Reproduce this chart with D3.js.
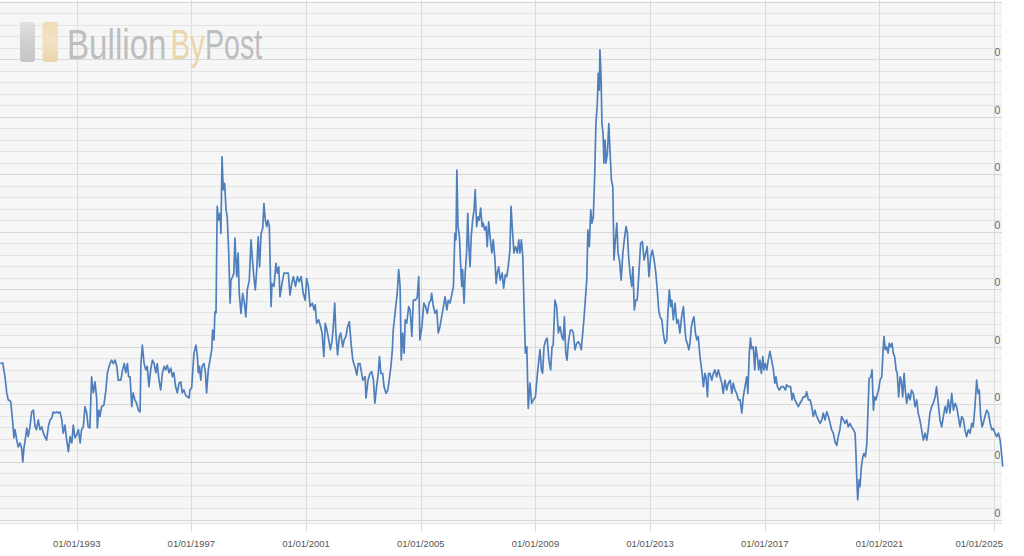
<!DOCTYPE html>
<html><head><meta charset="utf-8">
<script src="https://cdn.jsdelivr.net/npm/d3@7"></script>
<style>html,body{margin:0;padding:0;background:#fff;overflow:hidden}</style>
</head><body><svg id="c" width="1024" height="556"></svg>
<script>
// Decimal years of each observation
const years=[
1990.33,1990.42,1990.50,1990.56,1990.61,1990.70,1990.75,1990.79,1990.81,1990.85,
1990.91,1990.96,1991.02,1991.08,1991.12,1991.16,1991.22,1991.26,1991.31,1991.37,
1991.43,1991.49,1991.55,1991.60,1991.66,1991.72,1991.78,1991.84,1991.89,1991.95,
1992.01,1992.07,1992.13,1992.18,1992.24,1992.30,1992.36,1992.42,1992.48,1992.53,
1992.59,1992.65,1992.71,1992.77,1992.83,1992.88,1992.94,1993.00,1993.06,1993.12,
1993.17,1993.23,1993.29,1993.35,1993.40,1993.46,1993.52,1993.58,1993.64,1993.70,
1993.72,1993.77,1993.81,1993.87,1993.95,1994.02,1994.07,1994.16,1994.22,1994.28,
1994.34,1994.40,1994.45,1994.54,1994.60,1994.66,1994.71,1994.77,1994.81,1994.86,
1994.92,1994.97,1995.03,1995.09,1995.15,1995.21,1995.24,1995.29,1995.35,1995.41,
1995.46,1995.52,1995.58,1995.64,1995.70,1995.76,1995.81,1995.87,1995.93,1995.99,
1996.05,1996.10,1996.16,1996.22,1996.28,1996.34,1996.39,1996.45,1996.51,1996.57,
1996.63,1996.68,1996.74,1996.80,1996.86,1996.92,
1996.95,1997.01,1997.09,1997.16,
1997.21,1997.24,1997.28,1997.33,1997.37,1997.44,1997.49,1997.53,1997.59,1997.65,
1997.71,1997.74,1997.79,1997.82,1997.86,1997.90,1997.95,1998.00,1998.03,1998.07,
1998.11,1998.16,1998.21,1998.25,1998.30,1998.35,1998.38,1998.44,1998.48,1998.52,
1998.58,1998.63,1998.67,1998.73,1998.79,1998.85,1998.90,1998.95,1999.02,1999.08,
1999.13,1999.18,1999.23,1999.28,1999.33,1999.38,1999.43,1999.49,1999.53,1999.58,
1999.63,1999.67,1999.72,1999.78,1999.81,1999.88,1999.95,2000.00,2000.05,2000.09,
2000.16,2000.23,2000.30,2000.38,2000.44,2000.50,2000.56,2000.63,2000.70,2000.76,
2000.83,2000.90,2000.97,2001.02,2001.08,2001.14,2001.22,2001.28,2001.32,2001.37,
2001.44,2001.51,2001.56,2001.62,2001.67,2001.73,2001.79,2001.85,2001.91,2001.95,
2002.00,2002.04,2002.10,2002.16,2002.21,2002.28,2002.33,2002.39,2002.45,2002.51,
2002.57,2002.63,2002.70,2002.77,2002.82,
2002.88,2002.98,2003.06,2003.09,2003.16,
2003.23,2003.29,2003.35,2003.40,2003.46,2003.52,2003.56,2003.61,2003.67,2003.72,
2003.79,2003.85,2003.90,2003.96,2004.01,2004.04,2004.09,2004.14,2004.18,2004.23,
2004.28,2004.32,2004.37,2004.42,2004.46,2004.51,2004.58,2004.63,2004.69,2004.74,
2004.82,2004.88,2004.93,2004.97,2005.04,2005.11,2005.17,2005.23,2005.29,2005.35,
2005.38,2005.44,2005.50,2005.56,2005.61,2005.67,2005.73,2005.79,2005.85,2005.91,
2005.96,2006.02,2006.08,2006.14,2006.19,2006.23,2006.26,2006.30,2006.35,2006.39,
2006.43,2006.46,2006.51,2006.55,2006.60,2006.64,2006.68,2006.72,2006.76,2006.81,
2006.86,2006.90,2006.95,2007.00,2007.04,2007.09,2007.14,2007.18,2007.23,2007.28,
2007.32,2007.37,2007.42,2007.48,2007.53,2007.59,2007.63,2007.67,2007.72,2007.77,
2007.84,2007.89,2007.95,2008.00,2008.05,2008.11,2008.15,2008.19,2008.25,2008.31,
2008.37,2008.42,2008.46,
2008.51,2008.56,2008.60,2008.65,2008.70,2008.75,2008.81,
2008.87,2008.93,2009.00,2009.07,2009.12,2009.16,2009.21,2009.25,2009.30,2009.36,
2009.41,2009.47,2009.53,2009.58,2009.62,2009.68,2009.74,2009.80,2009.86,2009.92,
2009.97,2010.01,2010.06,2010.10,2010.16,2010.22,2010.28,2010.32,2010.38,2010.44,
2010.50,2010.56,2010.60,2010.65,2010.69,2010.74,2010.79,2010.83,2010.88,2010.93,
2010.97,2011.02,2011.07,2011.11,2011.16,2011.19,2011.23,2011.25,2011.29,2011.32,
2011.36,2011.39,2011.43,2011.46,2011.51,2011.56,2011.60,2011.65,2011.70,2011.74,
2011.79,2011.84,2011.88,2011.93,2011.99,2012.05,2012.10,2012.16,2012.21,2012.25,
2012.30,2012.36,2012.40,2012.45,2012.50,2012.55,2012.61,2012.67,2012.73,2012.79,
2012.85,2012.90,2012.96,2013.02,2013.08,2013.14,2013.20,2013.25,2013.30,2013.35,
2013.41,2013.46,2013.52,2013.58,2013.62,2013.67,2013.72,2013.76,2013.81,2013.87,
2013.93,2013.98,2014.04,2014.10,2014.16,2014.21,2014.25,2014.30,2014.35,2014.39,
2014.44,2014.49,2014.53,2014.58,2014.63,2014.68,2014.74,2014.80,2014.86,2014.91,
2014.95,2015.00,2015.04,2015.09,2015.15,2015.21,2015.26,2015.32,2015.38,2015.44,
2015.50,2015.55,2015.61,2015.67,2015.73,2015.79,2015.85,2015.90,2015.96,2016.02,2016.08,
2016.14,2016.20,2016.25,2016.31,2016.37,2016.41,2016.46,2016.50,2016.54,
2016.60,2016.65,2016.69,2016.74,2016.79,2016.83,2016.88,2016.93,2016.97,2017.02,
2017.07,2017.12,2017.18,2017.24,2017.30,2017.35,2017.39,2017.44,2017.51,2017.58,
2017.65,2017.72,2017.76,2017.83,2017.90,2017.95,2017.99,2018.05,2018.11,2018.17,
2018.23,2018.30,2018.34,2018.41,2018.46,2018.52,2018.58,2018.64,2018.69,2018.75,
2018.81,2018.87,2018.93,2018.99,2019.04,2019.10,2019.16,2019.22,2019.28,2019.33,
2019.39,2019.45,2019.51,2019.56,2019.62,2019.68,2019.74,2019.80,2019.86,2019.91,
2019.97,2020.03,2020.09,2020.15,2020.18,2020.21,2020.24,2020.29,2020.32,2020.37,
2020.42,2020.46,2020.51,2020.56,2020.60,2020.64,2020.70,2020.74,2020.79,2020.83,
2020.88,2020.93,2020.97,2021.02,2021.08,2021.12,2021.16,2021.20,2021.25,2021.30,
2021.34,2021.39,2021.44,2021.48,2021.53,2021.58,2021.62,2021.67,2021.72,2021.76,
2021.81,2021.86,2021.90,2021.95,2022.01,2022.07,2022.12,2022.18,2022.24,2022.30,
2022.35,2022.41,2022.47,2022.53,2022.59,2022.65,2022.70,2022.76,2022.82,2022.88,
2022.94,2022.99,2023.05,2023.11,2023.17,2023.23,2023.29,2023.34,2023.40,2023.46,
2023.52,2023.58,2023.64,2023.69,2023.75,2023.81,2023.87,2023.93,2023.98,2024.04,
2024.10,2024.16,2024.22,2024.27,2024.33,2024.39,2024.44,2024.48,2024.53,2024.58,
2024.62,2024.68,2024.74,2024.80,2024.86,2024.92,2024.97,2025.03,2025.09,2025.15,
2025.21,2025.27,2025.30];

// Series values (in gridline units)
const ratio=[
2.71,2.72,2.48,2.20,2.08,2.05,1.79,1.56,1.42,1.56,
1.38,1.26,1.33,1.24,1.00,1.24,1.44,1.59,1.44,1.61,
1.87,1.90,1.61,1.56,1.73,1.56,1.61,1.50,1.44,1.38,
1.61,1.73,1.76,1.87,1.85,1.87,1.85,1.87,1.73,1.50,
1.64,1.38,1.18,1.44,1.33,1.64,1.42,1.47,1.56,1.33,
1.56,1.61,1.96,1.85,1.61,1.59,2.48,2.20,2.39,2.08,
1.59,1.90,1.79,1.96,1.99,2.25,2.55,2.71,2.77,2.71,
2.77,2.66,2.42,2.42,2.60,2.71,2.55,2.71,2.48,2.48,
1.96,2.20,2.08,2.02,1.90,1.87,2.71,3.03,2.71,2.60,
2.66,2.31,2.60,2.77,2.71,2.55,2.71,2.42,2.25,2.55,
2.66,2.60,2.68,2.55,2.63,2.48,2.55,2.31,2.20,2.37,
2.39,2.20,2.25,2.16,2.13,2.11,
2.25,2.29,2.89,3.03,
2.83,2.55,2.66,2.42,2.66,2.71,2.55,2.20,2.60,2.77,
2.95,3.29,3.12,3.61,3.59,5.44,5.20,5.32,4.97,6.30,
5.73,5.84,5.38,5.26,4.68,3.76,4.16,4.22,4.28,4.89,
4.22,4.63,3.93,3.58,3.93,3.76,3.52,3.99,4.16,4.86,
4.51,4.22,3.99,4.34,4.91,4.39,4.97,5.06,5.49,5.20,
5.09,5.20,5.09,3.70,4.10,4.05,4.45,4.28,4.39,3.87,
4.10,4.28,4.28,4.28,3.90,4.10,4.22,4.05,4.22,4.13,
4.22,3.93,3.81,4.19,4.05,3.70,3.76,3.64,3.73,3.41,
3.47,3.35,3.24,2.83,3.41,3.29,3.12,2.95,3.12,3.35,
3.76,3.24,2.86,3.18,3.24,3.00,3.12,3.18,3.35,3.44,
3.06,2.77,2.66,2.51,2.71,
2.71,2.42,2.48,2.11,2.42,
2.54,2.57,2.42,2.02,2.31,2.54,2.83,2.54,2.54,2.31,
2.19,2.25,2.42,2.66,2.95,3.29,3.52,3.76,3.93,4.34,
4.05,2.77,3.24,2.89,3.47,3.41,3.70,3.64,3.18,3.81,
3.81,3.87,4.22,3.12,3.35,3.76,3.70,3.58,3.76,3.81,
3.93,3.70,3.58,3.64,3.24,3.35,3.52,3.70,3.87,3.64,
3.81,3.76,3.90,4.05,4.97,4.86,6.07,5.09,4.91,4.45,
4.05,4.34,3.76,4.28,4.63,5.32,4.74,4.39,4.91,5.20,
5.38,5.73,5.09,5.26,5.20,5.41,5.09,5.15,5.03,5.09,
4.74,5.17,4.91,4.63,4.86,4.51,4.10,4.28,4.39,4.16,
4.28,4.02,4.25,4.22,4.39,4.68,5.44,5.09,4.63,4.74,
4.63,4.86,4.63,
4.86,4.57,3.76,2.89,3.00,1.93,2.37,
2.02,2.08,2.13,2.54,2.77,2.95,2.60,2.54,3.00,3.12,
3.15,2.77,2.60,3.00,3.03,3.81,3.70,3.24,3.35,3.18,
3.12,3.52,2.89,2.77,3.12,3.29,3.29,3.24,2.95,3.06,
3.09,3.03,2.95,3.24,3.47,3.81,4.16,5.03,4.74,5.38,
5.15,5.26,6.02,6.88,7.23,7.75,7.46,8.16,7.69,6.88,
6.71,6.19,6.59,6.19,6.36,6.88,6.42,5.90,5.78,4.51,
4.86,5.15,4.63,4.51,4.16,4.63,4.86,5.09,4.97,4.57,
4.28,4.05,4.39,3.64,3.81,3.81,4.28,4.80,4.83,4.51,
4.63,4.74,4.22,4.57,4.68,4.51,4.28,3.99,3.64,3.52,
3.47,3.24,3.06,3.12,3.58,3.99,3.70,3.81,3.47,3.76,
3.41,3.47,3.24,3.52,3.70,3.35,3.12,3.06,2.95,3.06,
3.35,3.47,3.52,3.24,3.12,3.18,2.83,2.60,2.31,2.54,
2.48,2.13,2.54,2.54,2.42,2.54,2.60,2.48,2.60,2.48,
2.37,2.19,2.42,2.25,2.37,2.42,2.19,2.37,2.25,2.19,2.08,
2.08,1.85,2.13,2.31,2.48,2.19,2.89,3.15,2.97,
3.00,2.60,3.00,2.83,2.60,2.77,2.54,2.83,2.60,2.71,
2.60,2.77,2.92,2.77,2.60,2.37,2.48,2.31,2.25,2.31,
2.31,2.25,2.34,2.31,2.31,2.08,2.19,2.08,2.02,1.96,
2.02,2.08,2.13,2.13,2.22,2.08,2.08,1.96,1.79,1.90,
1.79,1.73,1.67,1.73,1.85,1.73,1.87,1.79,1.67,1.56,
1.50,1.35,1.29,1.44,1.56,1.79,1.73,1.67,1.73,1.61,
1.67,1.61,1.56,1.50,1.15,0.69,0.34,0.69,0.57,0.92,
1.09,1.15,1.09,1.32,1.90,2.45,2.48,2.60,1.90,2.13,
2.08,2.19,2.25,2.42,2.48,2.89,3.18,2.95,3.00,2.89,
3.06,3.00,3.06,2.89,2.83,2.60,2.54,2.13,2.48,2.42,
2.13,2.54,2.25,2.02,2.19,2.08,2.25,2.19,1.96,2.08,
1.85,1.73,1.56,1.38,1.50,1.38,1.56,1.85,1.96,2.02,
2.13,2.31,2.02,1.73,1.61,1.79,1.96,1.85,2.08,1.85,
2.19,1.90,2.02,1.96,1.79,1.61,1.79,1.73,1.56,1.44,
1.56,1.50,1.67,1.61,1.96,2.42,2.19,2.25,1.79,1.61,
1.67,1.79,1.90,1.85,1.67,1.56,1.58,1.50,1.44,1.50,
1.38,1.09,0.92];

const xTickYears=[1993,1997,2001,2005,2009,2013,2017,2021,2025];
const xTickLabels=["01/01/1993","01/01/1997","01/01/2001","01/01/2005","01/01/2009","01/01/2013","01/01/2017","01/01/2021","01/01/2025"];
const yTickValues=[0,1,2,3,4,5,6,7,8];
const yTickLabels=["0","0","0","0","0","0","0","0","0"];
const logoWords=["Bullion","By","Post"];

const svg=d3.select("#c");
const W=1002;
const x=d3.scaleLinear().domain([1990.325,2025.274]).range([0,W]);
const y=d3.scaleLinear().domain([-0.078,9]).range([524,1.5]);

svg.append("rect").attr("x",0).attr("y",y(9)).attr("width",W).attr("height",y.range()[0]-y(9)).attr("fill","#f6f6f6");

// minor horizontal grid
const minor=d3.range(0,9.0001,0.2).filter(v=>Math.abs(v-Math.round(v))>1e-6);
svg.append("g").selectAll("line").data(minor).join("line")
  .attr("x1",0).attr("x2",W).attr("y1",d=>Math.round(y(d))+0.5).attr("y2",d=>Math.round(y(d))+0.5)
  .attr("stroke","#e4e4e4").attr("stroke-width",1);
// major horizontal grid
svg.append("g").selectAll("line").data(yTickValues.concat([9])).join("line")
  .attr("x1",0).attr("x2",W).attr("y1",d=>Math.round(y(d))+0.5).attr("y2",d=>Math.round(y(d))+0.5)
  .attr("stroke","#d7d7d7").attr("stroke-width",1);
// bottom border
svg.append("line").attr("x1",0).attr("x2",W).attr("y1",523.5).attr("y2",523.5).attr("stroke","#e4e4e4");
// vertical grid
svg.append("g").selectAll("line").data(xTickYears).join("line")
  .attr("x1",d=>Math.round(x(d))+0.5).attr("x2",d=>Math.round(x(d))+0.5).attr("y1",0).attr("y2",532)
  .attr("stroke","#dcdcdc").attr("stroke-width",1);

// logo watermark
const defs=svg.append("defs");
const gs=defs.append("linearGradient").attr("id","gs").attr("x1",0).attr("y1",0).attr("x2",0).attr("y2",1);
gs.append("stop").attr("offset","0").attr("stop-color","#e0e0e0");
gs.append("stop").attr("offset","0.5").attr("stop-color","#d0d0d0");
gs.append("stop").attr("offset","1").attr("stop-color","#c4c4c4");
const gg=defs.append("linearGradient").attr("id","gg").attr("x1",0).attr("y1",0).attr("x2",0).attr("y2",1);
gg.append("stop").attr("offset","0").attr("stop-color","#efdcb8");
gg.append("stop").attr("offset","0.5").attr("stop-color","#f3e3c6");
gg.append("stop").attr("offset","1").attr("stop-color","#e9d4aa");
const logo=svg.append("g");
logo.append("rect").attr("x",20).attr("y",22).attr("width",15).attr("height",40).attr("rx",3).attr("fill","url(#gs)");
logo.append("rect").attr("x",42.5).attr("y",22).attr("width",15.5).attr("height",40).attr("rx",3).attr("fill","url(#gg)");
const logoColors=["#bebebe","#ead6ad","#bebebe"];
const logoX=[67,170.5,205], logoSX=[0.79,0.70,0.68];
logo.selectAll("text").data(logoWords).join("text")
  .attr("transform",(d,i)=>`translate(${logoX[i]},58.5) scale(${logoSX[i]},1)`)
  .attr("font-family","Liberation Sans, Arial, sans-serif").attr("font-size",42)
  .attr("fill",(d,i)=>logoColors[i]).text(d=>d);

// series line
const n=Math.min(years.length,ratio.length);
const pts=d3.range(n).map(i=>[years[i],ratio[i]]);
svg.append("path").datum(pts)
  .attr("d",d3.line().x(d=>x(d[0])).y(d=>y(d[1])))
  .attr("fill","none").attr("stroke","#4f80bd").attr("stroke-width",1.7).attr("stroke-linejoin","round");

// x labels (last one kept inside the chart edge)
svg.append("g").selectAll("text").data(xTickYears).join("text")
  .attr("x",(d,i)=>i===xTickYears.length-1?1003:x(d)).attr("y",547)
  .attr("text-anchor",(d,i)=>i===xTickYears.length-1?"end":"middle")
  .attr("font-family","Liberation Sans, Arial, sans-serif").attr("font-size",9.5)
  .attr("fill","#555").text((d,i)=>xTickLabels[i]);
// y labels
svg.append("g").selectAll("text").data(yTickValues).join("text")
  .attr("x",994.5).attr("y",d=>y(d)-3)
  .attr("font-family","Liberation Sans, Arial, sans-serif").attr("font-size",10.5)
  .attr("fill","#666").text((d,i)=>yTickLabels[i]);
</script></body></html>
